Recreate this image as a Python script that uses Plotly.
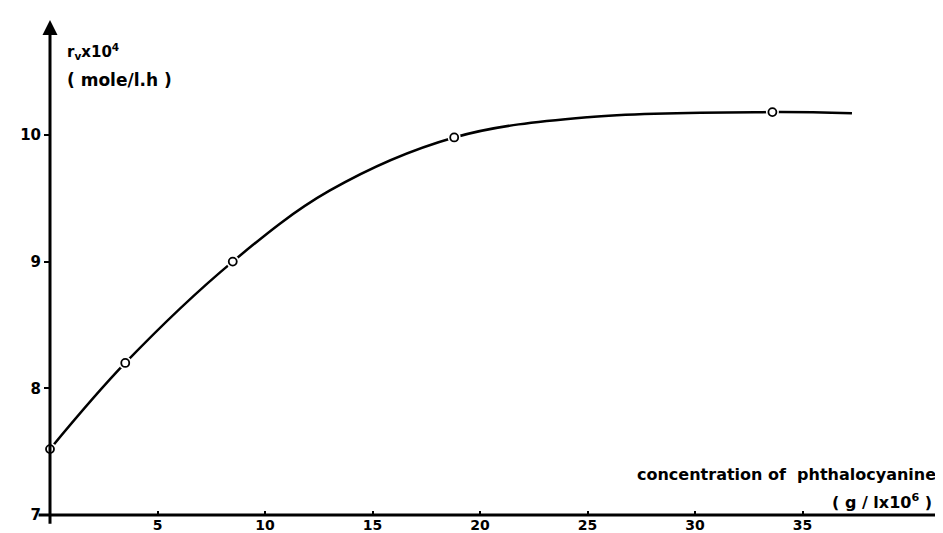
import plotly.graph_objects as go

# data
conc_points = [0.0, 3.5, 8.5, 18.8, 33.6]
rate_points = [7.52, 8.20, 9.00, 9.98, 10.18]

curve_x = [0.0, 3.5, 8.5, 13.0, 18.8, 25.0, 33.6, 37.3]
curve_y = [7.52, 8.20, 9.00, 9.56, 9.98, 10.14, 10.18, 10.17]

x_ticks = [5, 10, 15, 20, 25, 30, 35]
y_ticks = [7, 8, 9, 10]

FONT = "DejaVu Sans"

fig = go.Figure()
fig.add_trace(go.Scatter(x=curve_x, y=curve_y, mode="lines",
                         line=dict(color="black", width=2.5, shape="spline", smoothing=1.0),
                         hoverinfo="skip", cliponaxis=False))
# white halo so the curve is broken around each measured point, as in the drawing
fig.add_trace(go.Scatter(x=conc_points, y=rate_points, mode="markers",
                         marker=dict(size=13, color="white", line=dict(width=0)),
                         hoverinfo="skip", cliponaxis=False))
fig.add_trace(go.Scatter(x=conc_points, y=rate_points, mode="markers",
                         marker=dict(size=8, color="white", line=dict(color="black", width=1.8)),
                         cliponaxis=False))

XMAX = 41.86
YMAX = 10.907

fig.update_layout(
    width=943, height=533, autosize=False,
    margin=dict(l=42, r=1, t=12, b=26),
    paper_bgcolor="white", plot_bgcolor="white",
    showlegend=False,
    font=dict(family=FONT, color="black"),
    xaxis=dict(range=[0, XMAX], showgrid=False, zeroline=False, showline=False,
               tickmode="array", tickvals=x_ticks, ticktext=[f"<b>{t}</b>" for t in x_ticks],
               ticks="inside", ticklen=4, tickwidth=2, tickcolor="black",
               ticklabelstandoff=0,
               tickfont=dict(size=14, family=FONT)),
    yaxis=dict(range=[7, YMAX], showgrid=False, zeroline=False, showline=False,
               tickmode="array", tickvals=y_ticks, ticktext=[f"<b>{t}</b>" for t in y_ticks],
               ticks="outside", ticklen=5, tickwidth=2, tickcolor="black",
               tickfont=dict(size=15, family=FONT)),
)

# axes with arrowheads
fig.add_annotation(x=XMAX, y=7, ax=-0.6, ay=7, xref="x", yref="y", axref="x", ayref="y",
                   showarrow=True, arrowhead=2, arrowsize=1, arrowwidth=3, arrowcolor="black", text="")
fig.add_annotation(x=0, y=YMAX, ax=0, ay=6.92, xref="x", yref="y", axref="x", ayref="y",
                   showarrow=True, arrowhead=2, arrowsize=1, arrowwidth=3, arrowcolor="black", text="")

# axis titles
fig.add_annotation(x=0.7, y=10.66, xref="x", yref="y", xanchor="left", yanchor="middle",
                   showarrow=False, text="<b>r<sub>v</sub>x10<sup>4</sup></b>",
                   font=dict(size=15, family=FONT))
fig.add_annotation(x=0.7, y=10.43, xref="x", yref="y", xanchor="left", yanchor="middle",
                   showarrow=False, text="<b>( mole/l.h )</b>",
                   font=dict(size=17, family=FONT))
fig.add_annotation(x=41.3, y=7.316, xref="x", yref="y", xanchor="right", yanchor="middle",
                   showarrow=False, text="<b>concentration of  phthalocyanine</b>",
                   font=dict(size=16, family=FONT))
fig.add_annotation(x=41.1, y=7.11, xref="x", yref="y", xanchor="right", yanchor="middle",
                   showarrow=False, text="<b>( g / lx10<sup>6</sup> )</b>",
                   font=dict(size=16, family=FONT))

fig.write_html("out.html")
